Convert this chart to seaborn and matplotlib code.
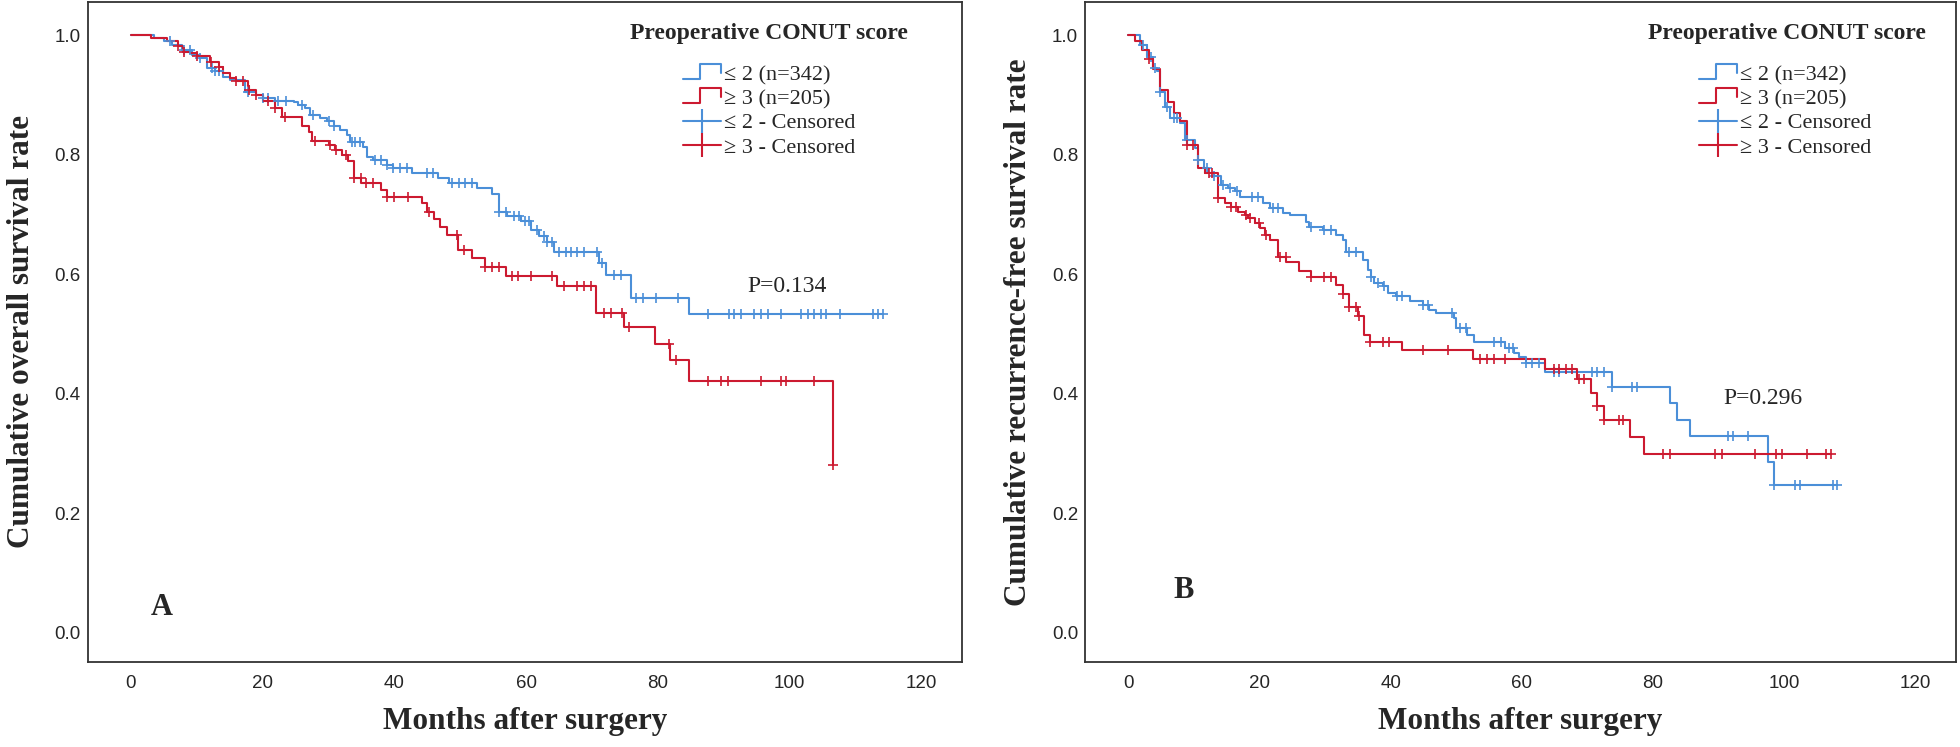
import numpy as np
import matplotlib
matplotlib.use('Agg')
import matplotlib.pyplot as plt
import seaborn as sns
from matplotlib.lines import Line2D
from matplotlib.legend_handler import HandlerLine2D

# ---- data ----
# panel A: overall survival
a_low_t = [3.5, 5.0, 6.2, 7.7, 9.2, 10.5, 11.5, 12.8, 14.0, 15.0, 17.3, 19.0, 20.1, 21.9, 24.7, 25.4,
           26.5, 27.2, 28.7, 29.8, 30.8, 31.8, 32.8, 33.3, 35.3, 35.8, 36.8, 38.9, 39.8, 42.7, 46.7,
           48.3, 52.6, 54.9, 55.9, 57.1, 59.2, 60.7, 62.0, 63.2, 64.2, 71.1, 72.1, 75.9, 84.8]
a_low_s = [0.995, 0.990, 0.984, 0.976, 0.968, 0.962, 0.945, 0.940, 0.931, 0.926, 0.906, 0.900, 0.895,
           0.891, 0.889, 0.884, 0.878, 0.867, 0.862, 0.856, 0.848, 0.842, 0.834, 0.821, 0.814, 0.797,
           0.792, 0.783, 0.778, 0.770, 0.761, 0.753, 0.744, 0.735, 0.705, 0.697, 0.689, 0.675, 0.665,
           0.655, 0.638, 0.619, 0.599, 0.560, 0.534]
a_low_end = 114.2
a_low_cens = [5.9, 8.0, 9.0, 10.5, 12.3, 12.8, 13.3, 17.8, 20.1, 20.8, 22.4, 23.6, 26.0, 27.7, 30.0,
              30.8, 33.5, 34.0, 34.8, 37.1, 37.9, 38.9, 39.8, 40.9, 41.9, 44.9, 45.9, 48.8, 49.8, 50.8,
              51.8, 55.9, 56.9, 58.1, 58.9, 59.9, 60.4, 61.7, 62.7, 63.2, 64.0, 65.0, 66.0, 66.8, 67.8,
              68.8, 70.8, 71.6, 73.4, 74.4, 76.7, 77.7, 79.7, 83.0, 87.6, 90.8, 91.6, 92.6, 94.6, 95.7,
              96.7, 98.7, 101.7, 102.8, 103.8, 104.8, 105.5, 107.6, 112.7, 113.4, 114.2]

a_high_t = [3.0, 5.4, 7.2, 7.9, 9.0, 10.0, 12.0, 13.3, 14.0, 15.0, 16.0, 17.8, 18.0, 19.0, 20.0, 21.9,
            23.0, 26.0, 27.0, 27.5, 30.0, 31.0, 32.0, 33.0, 33.8, 35.0, 37.9, 38.9, 44.2, 45.0, 46.0,
            47.0, 48.0, 49.7, 51.8, 53.8, 56.9, 64.7, 70.6, 74.8, 79.6, 81.9, 84.8, 106.6]
a_high_s = [0.995, 0.990, 0.982, 0.973, 0.970, 0.965, 0.956, 0.948, 0.937, 0.929, 0.923, 0.915, 0.909,
            0.900, 0.890, 0.878, 0.864, 0.848, 0.839, 0.824, 0.817, 0.809, 0.800, 0.789, 0.761, 0.753,
            0.742, 0.730, 0.719, 0.704, 0.692, 0.680, 0.666, 0.641, 0.627, 0.613, 0.598, 0.580, 0.536,
            0.512, 0.483, 0.456, 0.421, 0.281]
a_high_end = 106.6
a_high_cens = [7.2, 8.0, 10.0, 12.2, 13.3, 16.0, 17.0, 18.0, 19.0, 20.8, 21.9, 23.4, 27.9, 30.2, 31.2,
               32.6, 33.9, 34.9, 35.7, 36.7, 38.9, 39.9, 42.0, 45.2, 49.5, 50.6, 53.8, 54.9, 55.9, 57.9,
               58.7, 60.8, 64.0, 65.7, 67.8, 68.8, 69.8, 71.8, 72.9, 74.6, 75.6, 81.7, 82.7, 87.7, 89.6,
               90.7, 95.7, 98.7, 99.5, 103.7, 106.6]

# panel B: recurrence-free survival
b_low_t = [1.8, 2.8, 3.8, 4.4, 4.9, 5.6, 6.4, 7.9, 8.7, 10.2, 10.7, 11.5, 12.2, 13.0, 14.2, 15.2, 16.3,
           17.0, 20.6, 21.6, 23.6, 24.6, 27.1, 27.6, 29.7, 31.7, 32.7, 33.2, 35.8, 36.6, 37.0, 37.5,
           38.8, 39.6, 40.8, 42.9, 44.9, 45.9, 46.9, 49.7, 50.0, 51.7, 52.7, 57.5, 58.8, 59.6, 60.6,
           63.6, 73.8, 82.6, 83.6, 85.6, 97.6, 98.5]
b_low_s = [0.984, 0.964, 0.945, 0.940, 0.906, 0.881, 0.862, 0.853, 0.825, 0.811, 0.792, 0.778, 0.770,
           0.764, 0.750, 0.744, 0.739, 0.730, 0.719, 0.711, 0.702, 0.699, 0.688, 0.680, 0.675, 0.666,
           0.658, 0.638, 0.624, 0.608, 0.596, 0.585, 0.580, 0.569, 0.563, 0.555, 0.549, 0.540, 0.535,
           0.527, 0.510, 0.499, 0.487, 0.476, 0.469, 0.462, 0.451, 0.436, 0.411, 0.384, 0.356, 0.330,
           0.286, 0.247]
b_low_end = 108.0
b_low_cens = [2.3, 3.5, 4.0, 4.9, 5.9, 6.9, 7.4, 8.9, 10.7, 12.0, 13.0, 14.5, 15.5, 16.5, 18.8, 19.8,
              22.1, 22.9, 27.9, 29.9, 30.9, 33.7, 34.7, 37.0, 38.0, 39.0, 41.0, 41.8, 44.9, 45.7, 49.4,
              50.5, 51.5, 55.8, 56.8, 58.1, 58.6, 60.6, 61.6, 62.6, 64.9, 65.7, 70.7, 71.5, 72.5, 73.8,
              76.8, 77.6, 91.5, 92.2, 94.5, 98.5, 101.6, 102.4, 107.4, 108.0]

b_high_t = [1.0, 2.1, 3.1, 3.8, 4.9, 6.0, 7.0, 7.9, 8.9, 10.7, 11.7, 13.7, 14.7, 15.7, 16.7, 17.8, 18.3,
            19.3, 20.1, 20.8, 21.6, 22.9, 24.1, 26.1, 27.9, 31.7, 32.7, 33.7, 35.0, 36.0, 36.8, 41.8,
            52.6, 63.6, 68.4, 70.6, 71.5, 72.5, 76.5, 78.6]
b_high_s = [0.990, 0.976, 0.960, 0.943, 0.909, 0.889, 0.870, 0.856, 0.817, 0.778, 0.770, 0.728, 0.719,
            0.713, 0.705, 0.700, 0.694, 0.686, 0.677, 0.666, 0.658, 0.629, 0.621, 0.605, 0.595, 0.582,
            0.567, 0.546, 0.530, 0.499, 0.486, 0.473, 0.458, 0.441, 0.424, 0.402, 0.380, 0.357, 0.327,
            0.300]
b_high_end = 107.2
b_high_cens = [3.1, 9.0, 9.8, 12.3, 12.8, 13.7, 15.7, 16.4, 17.9, 18.6, 20.0, 21.0, 23.2, 24.0, 27.9,
               29.9, 30.9, 32.7, 33.7, 34.7, 35.2, 36.8, 38.8, 39.8, 44.9, 48.7, 53.7, 54.7, 55.7, 57.5,
               64.9, 65.7, 66.7, 67.7, 68.7, 69.5, 71.5, 72.5, 74.8, 75.5, 81.6, 82.6, 89.5, 90.5, 95.5,
               98.8, 99.6, 103.5, 106.4, 107.2]

group_labels = ['\u2264 2 (n=342)', '\u2265 3 (n=205)', '\u2264 2 - Censored', '\u2265 3 - Censored']
legend_title = 'Preoperative CONUT score'
ylabels = ['Cumulative overall survival rate', 'Cumulative recurrence-free survival rate']
xlabel = 'Months after surgery'
p_texts = ['P=0.134', 'P=0.296']
panel_tags = ['A', 'B']

BLUE = '#4b8fd8'
RED = '#cc1a30'

sns.set_style('white')
plt.rcParams['font.family'] = ['Liberation Serif', 'DejaVu Serif']
SANS = ['Liberation Sans', 'DejaVu Sans']


class StepHandler(HandlerLine2D):
    # legend icon drawn as a little step, like the SPSS survival legend
    def create_artists(self, legend, orig_handle, xdescent, ydescent, width, height, fontsize, trans):
        xs = np.array([0, 0.45, 0.45, 1.0, 1.0]) * width - xdescent
        ys = np.array([0.1, 0.1, 1.05, 1.05, 0.45]) * height - ydescent
        ln = Line2D(xs, ys, color=orig_handle.get_color(), lw=orig_handle.get_linewidth())
        ln.set_transform(trans)
        return [ln]


def km_draw(ax, t, s, end, cens, color):
    x = np.array([0.0] + list(t) + [end])
    y = np.array([1.0] + list(s) + [s[-1]])
    sns.lineplot(x=x, y=y, drawstyle='steps-post', color=color, lw=1.5, ax=ax,
                 estimator=None, sort=False)
    c = np.array(cens)
    idx = np.searchsorted(x, c, side='right') - 1
    sns.scatterplot(x=c, y=y[idx], marker='+', color=color, s=55, linewidth=1.2, ax=ax, zorder=3)


fig = plt.figure(figsize=(19.6, 7.47), dpi=100)
axA = fig.add_axes([87.5 / 1960, 85 / 747, 874.5 / 1960, 660 / 747])
axB = fig.add_axes([1085 / 1960, 85 / 747, 871 / 1960, 660 / 747])

panels = [
    (axA, (a_low_t, a_low_s, a_low_end, a_low_cens), (a_high_t, a_high_s, a_high_end, a_high_cens)),
    (axB, (b_low_t, b_low_s, b_low_end, b_low_cens), (b_high_t, b_high_s, b_high_end, b_high_cens)),
]
p_pos = [(99.6, 0.579), (96.7, 0.393)]
tag_pos = [(4.7, 0.043), (8.4, 0.071)]
title_x = [0.779, 0.806]
leg_x = [0.681, 0.705]
ylab_x = [-0.059, -0.06]

for i, (ax, low, high) in enumerate(panels):
    km_draw(ax, *low, BLUE)
    km_draw(ax, *high, RED)

    ax.set_xlim(-6.6, 126.2)
    ax.set_ylim(-0.049, 1.056)
    ax.set_xticks(range(0, 121, 20))
    ax.set_yticks([0, 0.2, 0.4, 0.6, 0.8, 1.0])
    ax.set_yticklabels(['%.1f' % v for v in [0, 0.2, 0.4, 0.6, 0.8, 1.0]])
    for lab in ax.get_xticklabels() + ax.get_yticklabels():
        lab.set_family(SANS)
        lab.set_fontsize(13.5)
    ax.tick_params(axis='x', length=0, pad=9)
    ax.tick_params(axis='y', length=0, pad=5)
    for sp in ax.spines.values():
        sp.set_visible(True)
        sp.set_color('#333333')
        sp.set_linewidth(1.3)

    ax.set_xlabel(xlabel, fontsize=22.5, fontweight='bold', labelpad=11)
    ax.set_ylabel(ylabels[i], fontsize=22.5, fontweight='bold')
    ax.yaxis.set_label_coords(ylab_x[i], 0.5)

    ax.text(*p_pos[i], p_texts[i], fontsize=17, ha='center', va='center')
    ax.text(*tag_pos[i], panel_tags[i], fontsize=22, fontweight='bold', ha='center', va='center')
    ax.text(title_x[i], 0.953, legend_title, transform=ax.transAxes, fontsize=17,
            fontweight='bold', ha='center', va='center')

    h_low = Line2D([], [], color=BLUE, lw=1.5)
    h_high = Line2D([], [], color=RED, lw=1.5)
    h_lc = Line2D([], [], color=BLUE, lw=1.5, marker='|', markersize=17, mew=1.5)
    h_hc = Line2D([], [], color=RED, lw=1.5, marker='|', markersize=17, mew=1.5)
    ax.legend([h_low, h_high, h_lc, h_hc], group_labels, loc='upper left',
              bbox_to_anchor=(leg_x[i], 0.905), frameon=False, fontsize=16,
              handlelength=1.7, handletextpad=0.15, labelspacing=0.16, borderpad=0,
              borderaxespad=0, numpoints=1,
              handler_map={h_low: StepHandler(), h_high: StepHandler()})

fig.savefig('out.png', dpi=100)
